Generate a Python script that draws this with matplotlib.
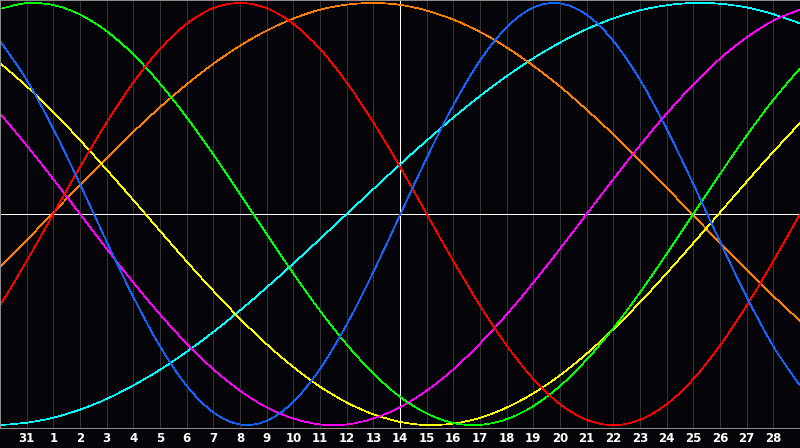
import numpy as np
import matplotlib
matplotlib.use("Agg")
import matplotlib.pyplot as plt
from matplotlib.path import Path
from matplotlib.patches import PathPatch

# -----------------------------
# DATA (one value per day, -100..100)
# -----------------------------
days = list(range(31))
tick_days = list(range(1, 30))
tick_labels = ["31"] + [str(i) for i in range(1, 29)]

physical = [82.0, 63.6, 40.3, 14.2, -13.1, -39.3, -62.7, -81.4, -94.0, -99.7, -98.0, -89.0, -73.4, -52.4, -27.5, -0.5,
            26.5, 51.5, 72.7, 88.5, 97.8, 99.8, 94.4, 82.0, 63.6, 40.3, 14.2, -13.1, -39.3, -62.7, -81.4]
emotional = [-43.4, -22.3, 0.0, 22.3, 43.4, 62.3, 78.2, 90.1, 97.5, 100.0, 97.5, 90.1, 78.2, 62.3, 43.4, 22.3,
             0.0, -22.3, -43.4, -62.3, -78.2, -90.1, -97.5, -100.0, -97.5, -90.1, -78.2, -62.3, -43.4, -22.3, 0.0]
intellectual = [97.2, 99.9, 99.0, 94.5, 86.6, 75.6, 61.8, 45.8, 28.2, 9.5, -9.5, -28.2, -45.8, -61.8, -75.6, -86.6,
                -94.5, -99.0, -99.9, -97.2, -91.0, -81.5, -69.0, -54.1, -37.2, -18.9, 0.0, 18.9, 37.2, 54.1, 69.0]
intuitive = [47.6, 32.5, 16.5, 0.0, -16.5, -32.5, -47.6, -61.4, -73.6, -83.7, -91.6, -96.9, -99.7, -99.7, -96.9, -91.6,
             -83.7, -73.6, -61.4, -47.6, -32.5, -16.5, 0.0, 16.5, 32.5, 47.6, 61.4, 73.6, 83.7, 91.6, 96.9]
aesthetic = [71.5, 60.5, 48.3, 35.0, 21.0, 6.6, -8.0, -22.5, -36.4, -49.6, -61.7, -72.5, -81.8, -89.3, -94.9, -98.5,
             -100.0, -99.3, -96.6, -91.7, -85.0, -76.4, -66.2, -54.6, -41.8, -28.1, -13.8, 0.7, 15.3, 29.5, 43.1]
awareness = [-25.2, -12.4, 0.7, 13.7, 26.5, 38.9, 50.6, 61.4, 71.2, 79.7, 86.9, 92.6, 96.8, 99.2, 100.0, 99.1,
             96.4, 92.1, 86.3, 78.9, 70.2, 60.4, 49.4, 37.7, 25.2, 12.4, -0.7, -13.7, -26.5, -38.9, -50.6]
spiritual = [-100.0, -98.9, -96.5, -92.7, -87.6, -81.2, -73.8, -65.3, -55.9, -45.7, -34.8, -23.5, -11.8, 0.0, 11.8, 23.5,
             34.8, 45.7, 55.9, 65.3, 73.8, 81.2, 87.6, 92.7, 96.5, 98.9, 100.0, 99.6, 97.9, 94.7, 90.3]

today = 15

series = [
    (spiritual, "#00ffff"),
    (awareness, "#ff8000"),
    (aesthetic, "#ffff00"),
    (intuitive, "#ff00ff"),
    (intellectual, "#00ff00"),
    (emotional, "#ff0000"),
    (physical, "#1464ff"),
]


def smooth_path(xs, ys):
    # Catmull-Rom through the daily points, drawn as cubic beziers
    xs = np.asarray(xs, float)
    ys = np.asarray(ys, float)
    px = np.concatenate([[xs[0]], xs, [xs[-1]]])
    py = np.concatenate([[ys[0]], ys, [ys[-1]]])
    verts = [(xs[0], ys[0])]
    codes = [Path.MOVETO]
    for i in range(1, len(px) - 2):
        c1 = (px[i] + (px[i + 1] - px[i - 1]) / 6, py[i] + (py[i + 1] - py[i - 1]) / 6)
        c2 = (px[i + 1] - (px[i + 2] - px[i]) / 6, py[i + 1] - (py[i + 2] - py[i]) / 6)
        verts += [c1, c2, (px[i + 1], py[i + 1])]
        codes += [Path.CURVE4] * 3
    return Path(verts, codes)


fig = plt.figure(figsize=(8, 4.48), dpi=100, facecolor="#050409")
ax = fig.add_axes([0, 20 / 448, 1, 428 / 448], facecolor="#050409")
ax.set_xlim(days[0], days[-1])
ax.set_ylim(-101.4, 101.4)

ax.set_xticks(tick_days)
ax.set_xticklabels(tick_labels)
ax.set_yticks([])
ax.tick_params(axis="x", length=0, pad=3.2, colors="white", labelsize=8.5)
for lbl in ax.get_xticklabels():
    lbl.set_fontweight("bold")
ax.grid(axis="x", color="#333333", linewidth=0.72, antialiased=False)
ax.set_axisbelow(True)

for side in ["left", "top", "bottom"]:
    ax.spines[side].set_color("#8c8c8c")
    ax.spines[side].set_linewidth(0.72)
    ax.spines[side].set_antialiased(False)
ax.spines["right"].set_visible(False)

ax.axhline(0, color="white", linewidth=0.72, zorder=1.5, antialiased=False)
ax.axvline(today, color="white", linewidth=0.72, zorder=1.5, antialiased=False)

for vals, col in series:
    ax.add_patch(PathPatch(smooth_path(days, vals), facecolor="none", edgecolor=col,
                           linewidth=0.5, antialiased=False, zorder=2))

fig.savefig("out.png", dpi=100, facecolor=fig.get_facecolor())
